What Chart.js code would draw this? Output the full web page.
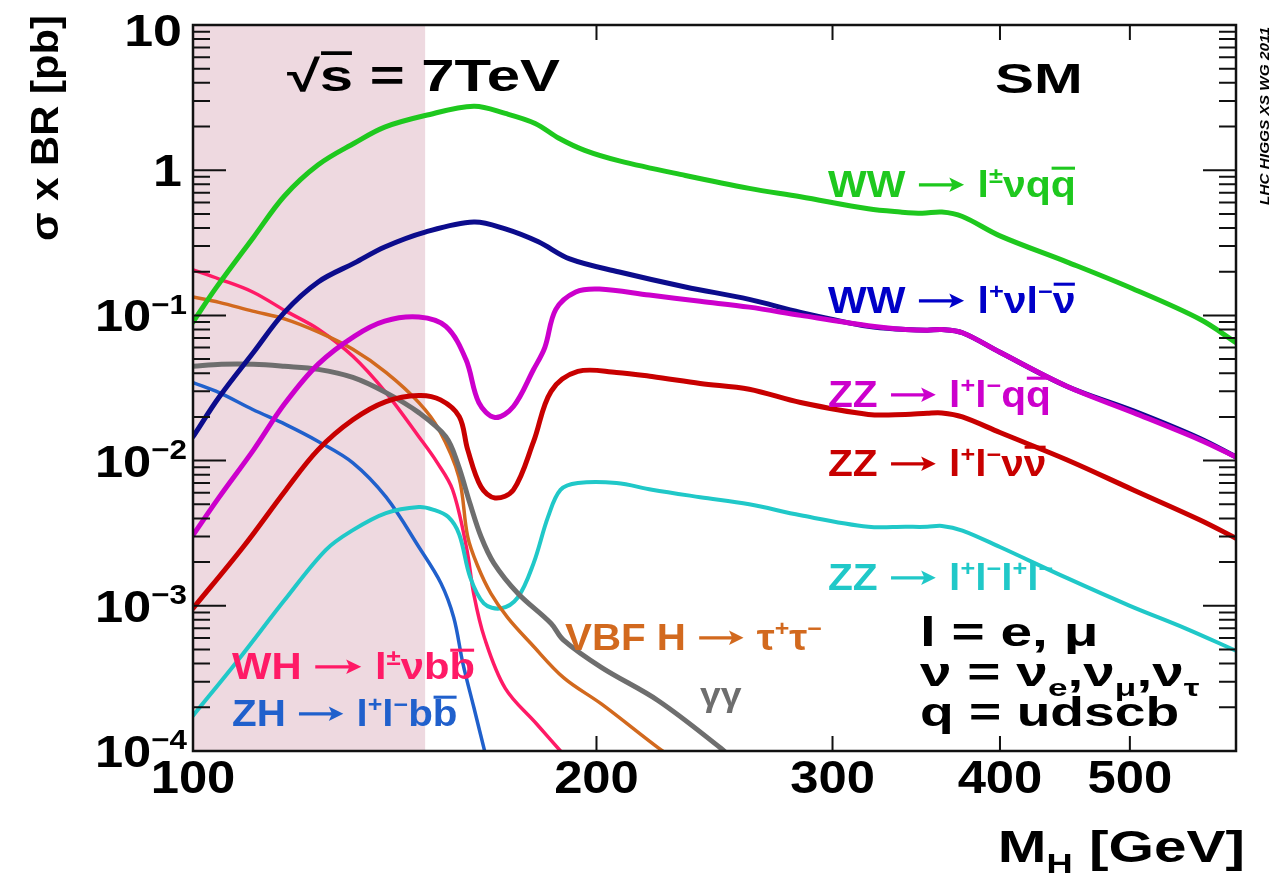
<!DOCTYPE html>
<html>
<head>
<meta charset="utf-8">
<title>SM Higgs sigma x BR at 7 TeV</title>
<script src="https://cdn.jsdelivr.net/npm/chart.js@4.4.1/dist/chart.umd.min.js"></script>
<style>
  html, body { margin: 0; padding: 0; background: #fff; }
  canvas { display: block; }
</style>
</head>
<body>
<canvas id="xsbr" width="1279" height="873"></canvas>
<script>
// ---- sigma x BR [pb] versus Higgs mass M_H [GeV], sqrt(s) = 7 TeV ----
const massWWlvqq = [100, 104, 111, 117, 124, 132, 139, 149, 162, 171, 180, 187.5, 196, 208, 233, 260, 284, 319, 337, 350, 362, 375, 400, 449, 503, 564, 600];
const xsWWlvqq   = [0.090, 0.154, 0.347, 0.664, 1.09, 1.54, 1.98, 2.38, 2.76, 2.46, 2.10, 1.66, 1.37, 1.16, 0.92, 0.75, 0.656, 0.542, 0.515, 0.505, 0.515, 0.48, 0.353, 0.233, 0.152, 0.094, 0.065];

const massWWlvlv = [100, 104.6, 111, 117, 124, 132, 139, 149, 162, 171, 181, 191, 208, 233, 260, 284, 319, 340, 353, 362, 375, 400, 449, 503, 564, 600];
const xsWWlvlv   = [0.0146, 0.0274, 0.056, 0.105, 0.170, 0.230, 0.296, 0.375, 0.44, 0.394, 0.321, 0.245, 0.199, 0.157, 0.129, 0.105, 0.084, 0.080, 0.079, 0.080, 0.076, 0.0557, 0.0324, 0.022, 0.0142, 0.0106];

const massZZllqq = [100, 104.6, 111, 117, 124, 132, 139, 147.4, 154.4, 159.8, 163.4, 168, 173.4, 179.5, 183, 186.5, 193, 201, 219, 239, 260, 284, 319, 340, 353, 362, 375, 400, 449, 503, 564, 600];
const xsZZllqq   = [0.00307, 0.0056, 0.0119, 0.0245, 0.0462, 0.0721, 0.0914, 0.0975, 0.084, 0.0498, 0.0251, 0.0198, 0.0236, 0.0424, 0.06, 0.11, 0.145, 0.152, 0.138, 0.125, 0.114, 0.100, 0.085, 0.080, 0.079, 0.080, 0.076, 0.0557, 0.0324, 0.0214, 0.0139, 0.0106];

const massZZllvv = [100, 109, 117.3, 124, 131.6, 139.3, 147.4, 153, 158, 160.3, 164, 168, 173.4, 179.5, 185, 193.7, 207, 220, 239, 260, 284, 319, 340, 353, 362, 375, 400, 449, 503, 564, 600];
const xsZZllvv   = [0.00096, 0.00254, 0.00628, 0.0119, 0.0191, 0.0255, 0.0281, 0.0262, 0.0201, 0.0119, 0.0066, 0.00553, 0.00628, 0.0135, 0.030, 0.0411, 0.0405, 0.038, 0.034, 0.031, 0.0251, 0.0208, 0.0208, 0.0212, 0.0213, 0.0200, 0.0156, 0.0101, 0.00628, 0.0039, 0.00292];

const massZZ4l = [100, 108, 117, 125.6, 131.6, 139.3, 147.4, 151, 155, 158, 161, 164.8, 169.7, 174.7, 179.5, 184, 188, 193.7, 207, 220, 239, 260, 284, 319, 340, 353, 362, 375, 400, 449, 500, 550, 600];
const xsZZ4l   = [0.000175, 0.00042, 0.00109, 0.00242, 0.00332, 0.00435, 0.00479, 0.0046, 0.0041, 0.0031, 0.00157, 0.00104, 0.00096, 0.00114, 0.00196, 0.00408, 0.00628, 0.0070, 0.0070, 0.0063, 0.0056, 0.0050, 0.0042, 0.0035, 0.0035, 0.0035, 0.00355, 0.0033, 0.00254, 0.00155, 0.00100, 0.00070, 0.00049];

const massWHlvbb = [100, 104.6, 110.8, 117.3, 124.1, 131.6, 139.3, 147.4, 152, 156.2, 160, 162, 165, 171, 180.4, 188, 192];
const xsWHlvbb   = [0.206, 0.178, 0.145, 0.107, 0.080, 0.0523, 0.0294, 0.0146, 0.0098, 0.0063, 0.0025, 0.0012, 0.0006, 0.00027, 0.000154, 0.0001, 0.00008];

const massZHllbb = [100, 104.6, 110.8, 117.3, 124.1, 131.6, 139.3, 147.4, 153.1, 156.5, 159, 162, 165.5];
const xsZHllbb   = [0.0345, 0.0294, 0.0225, 0.0177, 0.0135, 0.00966, 0.00562, 0.00254, 0.00143, 0.00083, 0.0004, 0.0002, 0.00009];

const massVBFtautau = [100, 104.6, 110.8, 117.3, 124.1, 131.6, 139.3, 147.4, 152.6, 157.9, 160.3, 163.2, 166.8, 171.7, 178.7, 189, 201.8, 222.4, 228];
const xsVBFtautau   = [0.134, 0.123, 0.107, 0.094, 0.0766, 0.0584, 0.0405, 0.0251, 0.0163, 0.0077, 0.0030, 0.00185, 0.00122, 0.00083, 0.00055, 0.00032, 0.00021, 0.000105, 0.00009];

const massGamGam = [100, 105, 111, 117, 124, 131.6, 139.3, 147.4, 154.4, 157.6, 161, 164, 167.7, 174.7, 185, 189, 201.8, 222.4, 247.5, 252];
const xsGamGam   = [0.0446, 0.046, 0.046, 0.0446, 0.0425, 0.0374, 0.0294, 0.0214, 0.0146, 0.0095, 0.0050, 0.0030, 0.00196, 0.00122, 0.000755, 0.00058, 0.000375, 0.000222, 0.000105, 0.00009];

// axis ranges, ticks and the shaded low-mass band
const massRange = [100, 600];
const xsRange = [1e-4, 10];
const xTickLabels = [100, 200, 300, 400, 500];
const yTickExponents = [1, 0, -1, -2, -3, -4];
const lowMassBand = [100, 149];

const FONT = '"Liberation Sans", Arial, Helvetica, sans-serif';
const ARROW = 5;

function pts(m, v) { return m.map((x, i) => ({ x: x, y: v[i] })); }

function curve(label, m, v, color, width) {
  return {
    label: label, data: pts(m, v), borderColor: color, backgroundColor: color,
    borderWidth: width, pointRadius: 0, showLine: true, fill: false,
    tension: 0.35, clip: 0, borderJoinStyle: 'round', borderCapStyle: 'round'
  };
}

// rich text: parts are [text, flag]; flag 0 normal, 1 superscript, 2 subscript, 3 overlined, 5 arrow
function layoutRich(ctx, parts, size) {
  let w = 0; const items = [];
  for (const [t, f] of parts) {
    const fs = (f === 1 || f === 2) ? size * 0.62 : size;
    ctx.font = `bold ${fs}px ${FONT}`;
    const tw = f === ARROW ? size * 1.2 : ctx.measureText(t).width;
    items.push({ t: t, f: f, fs: fs, x: w, w: tw });
    w += tw;
  }
  return { items: items, w: w };
}

function drawRich(ctx, x, y, parts, size, color, align, sx, barY) {
  const s = sx || 1;
  const { items, w } = layoutRich(ctx, parts, size);
  ctx.save();
  ctx.translate(x, y);
  ctx.scale(s, 1);
  const ox = align === 'right' ? -w : (align === 'center' ? -w / 2 : 0);
  ctx.fillStyle = color; ctx.strokeStyle = color;
  ctx.textAlign = 'left'; ctx.textBaseline = 'alphabetic';
  for (const it of items) {
    if (it.f === ARROW) {
      const x0 = ox + it.x + size * 0.05, x1 = ox + it.x + it.w - size * 0.05, ay = -size * 0.34;
      ctx.lineWidth = size * 0.09;
      ctx.beginPath(); ctx.moveTo(x0, ay); ctx.lineTo(x1 - size * 0.2, ay); ctx.stroke();
      ctx.beginPath();
      ctx.moveTo(x1, ay); ctx.lineTo(x1 - size * 0.36, ay - size * 0.2);
      ctx.lineTo(x1 - size * 0.28, ay); ctx.lineTo(x1 - size * 0.36, ay + size * 0.2);
      ctx.closePath(); ctx.fill();
      continue;
    }
    ctx.font = `bold ${it.fs}px ${FONT}`;
    const dy = it.f === 1 ? -size * 0.40 : (it.f === 2 ? size * 0.24 : 0);
    ctx.fillText(it.t, ox + it.x, dy);
    if (it.f === 3) {
      const by = -size * (barY || 0.80);
      ctx.lineWidth = size * 0.085;
      ctx.beginPath();
      ctx.moveTo(ox + it.x + size * 0.02, by);
      ctx.lineTo(ox + it.x + it.w - size * 0.02, by);
      ctx.stroke();
    }
  }
  ctx.restore();
}

const frameAndText = {
  id: 'frameAndText',
  beforeDraw(chart) {
    const c = chart.ctx;
    c.save(); c.fillStyle = '#ffffff'; c.fillRect(0, 0, chart.width, chart.height); c.restore();
  },
  beforeDatasetsDraw(chart) {
    const c = chart.ctx, a = chart.chartArea, xs = chart.scales.x;
    const x0 = xs.getPixelForValue(lowMassBand[0]), x1 = xs.getPixelForValue(lowMassBand[1]);
    c.save();
    c.fillStyle = 'rgb(238,217,224)';
    c.fillRect(x0, a.top, x1 - x0, a.bottom - a.top);
    c.restore();
  },
  afterDatasetsDraw(chart) {
    const c = chart.ctx, a = chart.chartArea, xs = chart.scales.x, ys = chart.scales.y;
    c.save();
    c.strokeStyle = '#111'; c.lineWidth = 2;
    // minor and major ticks on left and right edges
    for (let e = -4; e <= 1; e++) {
      const yMaj = ys.getPixelForValue(Math.pow(10, e));
      c.beginPath();
      c.moveTo(a.left, yMaj); c.lineTo(a.left + 33, yMaj);
      c.moveTo(a.right, yMaj); c.lineTo(a.right - 33, yMaj);
      c.stroke();
      if (e < 1) {
        for (let k = 2; k <= 9; k++) {
          const yMin = ys.getPixelForValue(k * Math.pow(10, e));
          c.beginPath();
          c.moveTo(a.left, yMin); c.lineTo(a.left + 17, yMin);
          c.moveTo(a.right, yMin); c.lineTo(a.right - 17, yMin);
          c.stroke();
        }
      }
    }
    // ticks on bottom and top edges
    for (const m of xTickLabels) {
      const px = xs.getPixelForValue(m);
      c.beginPath();
      c.moveTo(px, a.bottom); c.lineTo(px, a.bottom - 15);
      c.moveTo(px, a.top); c.lineTo(px, a.top + 15);
      c.stroke();
    }
    c.lineWidth = 2.5; c.strokeStyle = '#111';
    c.strokeRect(a.left, a.top, a.right - a.left, a.bottom - a.top);
    c.restore();

    // y tick labels
    for (const e of yTickExponents) {
      let py = ys.getPixelForValue(Math.pow(10, e));
      if (e === 1) py += 5;
      if (e === 1) drawRich(c, 182, py + 16, [['10', 0]], 44, '#000', 'right', 1.18);
      else if (e === 0) drawRich(c, 182, py + 16, [['1', 0]], 44, '#000', 'right', 1.18);
      else drawRich(c, 187, py + 16, [['10', 0], ['\u2212' + (-e), 1]], 44, '#000', 'right', 1.15);
    }
    // x tick labels
    for (const m of xTickLabels) {
      drawRich(c, xs.getPixelForValue(m), 793, [[String(m), 0]], 47, '#000', 'center', 1.08);
    }

    // axis titles
    drawRich(c, 1245, 862, [['M', 0], ['H', 2], [' [GeV]', 0]], 45, '#000', 'right', 1.3);
    c.save();
    c.translate(58, 128);
    c.rotate(-Math.PI / 2);
    drawRich(c, 0, 0, [['\u03c3 x BR [pb]', 0]], 38, '#000', 'center', 1.1);
    c.restore();

    // header texts
    drawRich(c, 287, 91, [['\u221a', 0], ['s', 3], [' = 7TeV', 0]], 44, '#000', 'left', 1.36, 0.86);
    drawRich(c, 995, 93, [['SM', 0]], 43, '#000', 'left', 1.36);

    // channel labels
    drawRich(c, 828, 197, [['WW ', 0], ['', ARROW], [' l', 0], ['\u00b1', 1], ['\u03bdq', 0], ['q', 3]], 36, '#1ec81e', 'left', 1.14);
    drawRich(c, 828, 313, [['WW ', 0], ['', ARROW], [' l', 0], ['+', 1], ['\u03bdl', 0], ['\u2212', 1], ['\u03bd', 3]], 36, '#0000c8', 'left', 1.14);
    drawRich(c, 828, 407, [['ZZ ', 0], ['', ARROW], [' l', 0], ['+', 1], ['l', 0], ['\u2212', 1], ['q', 0], ['q', 3]], 36, '#cc00cc', 'left', 1.13);
    drawRich(c, 828, 476, [['ZZ ', 0], ['', ARROW], [' l', 0], ['+', 1], ['l', 0], ['\u2212', 1], ['\u03bd', 0], ['\u03bd', 3]], 36, '#c80000', 'left', 1.13);
    drawRich(c, 828, 590, [['ZZ ', 0], ['', ARROW], [' l', 0], ['+', 1], ['l', 0], ['\u2212', 1], ['l', 0], ['+', 1], ['l', 0], ['\u2212', 1]], 36, '#20c8c8', 'left', 1.13);
    drawRich(c, 565, 650, [['VBF H ', 0], ['', ARROW], [' \u03c4', 0], ['+', 1], ['\u03c4', 0], ['\u2212', 1]], 36, '#d2691e', 'left', 1.12);
    drawRich(c, 700, 706, [['\u03b3\u03b3', 0]], 34, '#6e6e6e', 'left', 1.1);
    drawRich(c, 232, 679, [['WH ', 0], ['', ARROW], [' l', 0], ['\u00b1', 1], ['\u03bdb', 0], ['b', 3]], 36, '#ff1a66', 'left', 1.16);
    drawRich(c, 232, 726, [['ZH ', 0], ['', ARROW], [' l', 0], ['+', 1], ['l', 0], ['\u2212', 1], ['b', 0], ['b', 3]], 36, '#2060cc', 'left', 1.12);

    // lepton / neutrino / quark definitions
    drawRich(c, 920, 646, [['l = e, \u03bc', 0]], 40, '#000', 'left', 1.42);
    drawRich(c, 920, 686, [['\u03bd = \u03bd', 0], ['e', 2], [',\u03bd', 0], ['\u03bc', 2], [',\u03bd', 0], ['\u03c4', 2]], 40, '#000', 'left', 1.42);
    drawRich(c, 920, 726, [['q = udscb', 0]], 40, '#000', 'left', 1.38);

    // working group stamp
    c.save();
    c.translate(1266, 205);
    c.rotate(-Math.PI / 2);
    c.font = `italic bold 12px ${FONT}`;
    const stamp = 'LHC HIGGS XS WG 2011';
    const sw = c.measureText(stamp).width;
    c.scale(178 / sw, 1);
    c.fillStyle = '#000'; c.textBaseline = 'middle';
    c.fillText(stamp, 0, 0);
    c.restore();
  }
};

new Chart(document.getElementById('xsbr'), {
  type: 'scatter',
  data: {
    datasets: [
      curve('ZZ \u2192 llqq', massZZllqq, xsZZllqq, '#cc00cc', 5),
      curve('WW \u2192 l\u03bdl\u03bd', massWWlvlv, xsWWlvlv, '#0c0c8c', 5),
      curve('WW \u2192 l\u03bdqq', massWWlvqq, xsWWlvqq, '#1ec81e', 5),
      curve('ZZ \u2192 ll\u03bd\u03bd', massZZllvv, xsZZllvv, '#c80000', 5),
      curve('\u03b3\u03b3', massGamGam, xsGamGam, '#6e6e6e', 5),
      curve('VBF H \u2192 \u03c4\u03c4', massVBFtautau, xsVBFtautau, '#d2691e', 3.5),
      curve('ZZ \u2192 4l', massZZ4l, xsZZ4l, '#20c8c8', 4),
      curve('WH \u2192 l\u03bdbb', massWHlvbb, xsWHlvbb, '#ff1a66', 3.5),
      curve('ZH \u2192 llbb', massZHllbb, xsZHllbb, '#2060cc', 3.5)
    ]
  },
  options: {
    responsive: false,
    maintainAspectRatio: false,
    devicePixelRatio: 1,
    animation: false,
    events: [],
    layout: { padding: { left: 193, right: 43, top: 25, bottom: 122 } },
    plugins: { legend: { display: false }, tooltip: { enabled: false } },
    scales: {
      x: { type: 'logarithmic', min: massRange[0], max: massRange[1], display: false },
      y: { type: 'logarithmic', min: xsRange[0], max: xsRange[1], display: false }
    }
  },
  plugins: [frameAndText]
});
</script>
</body>
</html>
